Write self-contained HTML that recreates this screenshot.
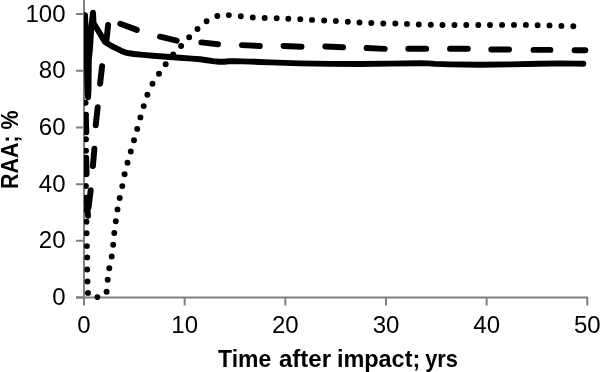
<!DOCTYPE html>
<html><head><meta charset="utf-8"><title>RAA chart</title>
<style>html,body{margin:0;padding:0;background:#fff;}body{width:600px;height:372px;overflow:hidden;font-family:"Liberation Sans",sans-serif;}svg{display:block;will-change:transform;filter:blur(0.35px);}</style>
</head><body>
<svg width="600" height="372" viewBox="0 0 600 372" font-family="'Liberation Sans', sans-serif">
<defs><clipPath id="pc"><rect x="83.9" y="0" width="517" height="300"/></clipPath></defs>
<path d="M84 0V297.5M76 297.5H588.2" stroke="#7f7f7f" stroke-width="2" fill="none"/>
<path d="M76 297.5H84M84 297.5V305.6M76 240.82H84M184.66 297.5V305.6M76 184.14H84M285.32 297.5V305.6M76 127.46H84M385.98 297.5V305.6M76 70.78H84M486.64 297.5V305.6M76 14.1H84M587.3 297.5V305.6" stroke="#7f7f7f" stroke-width="2" fill="none"/>
<g clip-path="url(#pc)"><path d="M85 15.2 L85.6 30 L86.4 50 L87.2 75 L87.6 92 L88.1 97.3 L88.5 90 L88.6 80 L88.8 60 L90 48 L90.7 37 L91.1 30 L92.1 20 L93 12.7 L93.5 23 L104.9 41.6 L107 43.3 L112 46.3 L118 49.1 L121.5 50.9 L125 52.3 L129 53.3 L134 54 L143 54.9 L153 55.7 L180 57.8 L192 58.6 L200 59.2 L207 60.2 L213 61.1 L219 61.8 L224 61.7 L229 61.3 L235 61.25 L242 61.4 L250 61.6 L260 62 L270 62.4 L300 63.4 L330 63.9 L360 64 L390 63.6 L420 63.2 L428 63.4 L435 63.9 L450 64.4 L480 64.8 L510 64.4 L540 63.7 L560 63.4 L575 63.6 L583.3 63.8" stroke="#000" stroke-width="5.94" fill="none" stroke-linejoin="round" stroke-linecap="round"/><path d="M85.8 115L86.3 132.2M86.2 157.8L86.6 173.9M86.6 198.6L88 215.8M108.1 25L106.2 42.6M102.1 66.1L100.1 83.7M97.7 107.3L95.7 125.3M94.4 148.7L92.9 166.1M90.7 190.2L88.5 207.8M120.3 23.7L136.8 29.9M160 36.7L176.7 40.7M201.3 42.4L218 44.3M242 45.1L259.8 46M283.6 46L301.5 46.7M325.3 46.5L343 47.3M366.6 48L384.7 48.9M408.3 48.7L426.2 48.7M450 48.7L467.8 48.7M491.3 49.5L509 49.5M533.5 49.9L550.4 49.9M574.6 50.2L585.3 50.2" stroke="#000" stroke-width="5.94" fill="none" stroke-linecap="round"/><path d="M85.6 102.8h0M85.8 114.7h0M85.9 126.6h0M86 139.3h0M86 150.7h0M85.9 162.4h0M85.9 174.2h0M85.9 186h0M86.2 197.8h0M86.4 209.6h0M86.5 221.7h0M86.6 233.2h0M86.9 246.1h0M87.2 257.4h0M87.2 269.5h0M87.5 281.5h0M88 292.9h0M97.4 297.1h0M106.6 291.7h0M107.7 279.7h0M109.3 268.2h0M111.7 256.5h0M113.2 244.8h0M114.3 233h0M115.8 221.2h0M117.5 209.4h0M119.7 198h0M122.3 186.1h0M124.6 174.3h0M127.5 162.8h0M130.8 151.5h0M134 140.2h0M137.2 128.9h0M140.4 117.4h0M143.7 106.1h0M147.4 94.8h0M152.5 83.8h0M159 73.7h0M165.7 64.2h0M173.2 54.5h0M181.1 46h0M189.2 37.3h0M197.5 29h0M206.6 21.2h0M217.3 16h0M228.8 15.1h0M240.8 16.2h0M252.8 17.5h0M264.7 18h0M276.7 18.3h0M288.3 18.7h0M300.3 19.3h0M312 19.9h0M324.2 20.5h0M335.8 21h0M347.8 21.7h0M359.5 22.5h0M371.3 23h0M383.3 23.5h0M395.3 23.5h0M407 23.9h0M418.8 24.5h0M430.8 24.8h0M442.5 25h0M454.5 25h0M466.3 25h0M478.3 25h0M490 25h0M502.1 24.9h0M514 24.9h0M525.9 24.9h0M537.6 25.2h0M549.5 25.4h0M561.4 25.9h0M573.3 26.3h0" stroke="#000" stroke-width="5.94" fill="none" stroke-linecap="round"/></g>
<g font-size="24" fill="#000"><text x="65.5" y="305.1" text-anchor="end">0</text><text x="84" y="333.3" text-anchor="middle">0</text><text x="65.5" y="248.42" text-anchor="end">20</text><text x="184.66" y="333.3" text-anchor="middle">10</text><text x="65.5" y="191.74" text-anchor="end">40</text><text x="285.32" y="333.3" text-anchor="middle">20</text><text x="65.5" y="135.06" text-anchor="end">60</text><text x="385.98" y="333.3" text-anchor="middle">30</text><text x="65.5" y="78.38" text-anchor="end">80</text><text x="486.64" y="333.3" text-anchor="middle">40</text><text x="65.5" y="21.7" text-anchor="end">100</text><text x="587.3" y="333.3" text-anchor="middle">50</text></g>
<g font-size="24" font-weight="bold"><text x="218.1" y="367.3" textLength="53.1" lengthAdjust="spacingAndGlyphs">Time</text><text x="278.9" y="367.3" textLength="52.1" lengthAdjust="spacingAndGlyphs">after</text><text x="336.9" y="367.3" textLength="83.4" lengthAdjust="spacingAndGlyphs">impact;</text><text x="425.2" y="367.3" textLength="32.8" lengthAdjust="spacingAndGlyphs">yrs</text></g>
<text transform="translate(17.9 188.9) rotate(-90)" font-size="24" font-weight="bold" textLength="78.5" lengthAdjust="spacingAndGlyphs">RAA; %</text>
</svg>
</body></html>
